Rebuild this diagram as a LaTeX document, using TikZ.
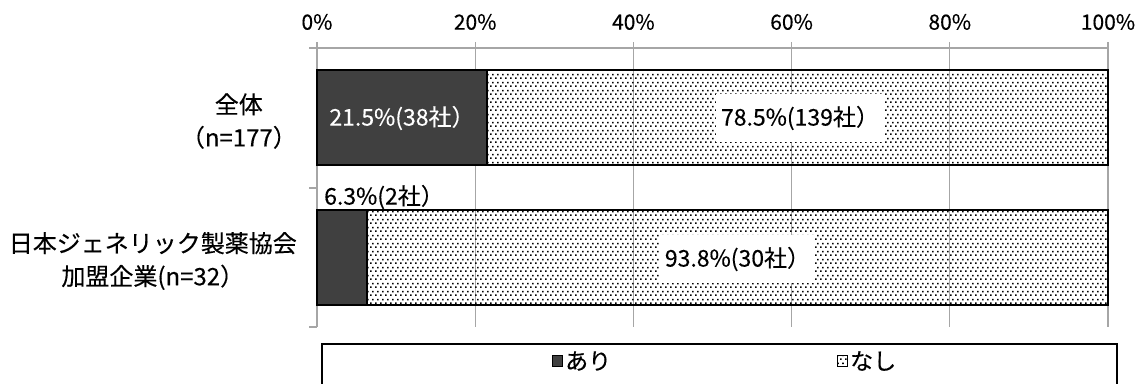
\documentclass[tikz,border=0pt]{standalone}
\usepackage{fontspec}
\setmainfont{Noto Sans CJK JP}[FakeBold=0.3]
\usetikzlibrary{patterns.meta}
\definecolor{bardark}{HTML}{404040}
\definecolor{gridgray}{HTML}{A6A6A6}
\tikzdeclarepattern{name=smalldots, type=uncolored,
  bounding box={(0pt,0pt) and (5pt,8pt)}, tile size={(5pt,8pt)},
  code={\fill (0pt,0pt) rectangle (1.8pt,1.8pt);
        \fill (2.5pt,4pt) rectangle (4.3pt,5.8pt);}}
\tikzset{
  ari/.style={draw=black, line width=1.3pt, fill=bardark},
  nashi/.style={draw=black, line width=1.3pt, pattern=smalldots},
  gridline/.style={gridgray, line width=1.2pt},
  lbl/.style={font=\fontsize{23}{26}\selectfont, inner sep=0pt},
  cat/.style={font=\fontsize{24}{33}\selectfont, inner sep=0pt, align=center, anchor=east},
  whitebox/.style={lbl, fill=white, inner xsep=5pt, inner ysep=12pt}
}
\begin{document}
\begin{tikzpicture}[x=1pt,y=-1pt]
\useasboundingbox (0,0) rectangle (1137,383);
% scale and grid
\foreach \p in {0,20,...,100}{
  \draw[gridline] (317+7.91*\p,42)--(317+7.91*\p,327);
  \node[lbl, font=\fontsize{21}{24}\selectfont] (t\p) at (317+7.91*\p,22) {\p\%};
}
\draw[gridline] (317,48)--(1108,48);
\draw[gridline] (317,48)--(317,327);
\foreach \y in {48,188,327} \draw[gridline] (309,\y)--(317,\y);

% bars
\draw[ari] (317,70) rectangle (487,165);
\draw[nashi] (487,70) rectangle (1108,165);
\draw[ari] (317,210) rectangle (367,305);
\draw[nashi] (367,210) rectangle (1108,305);

\node[lbl, text=white] (ari1) at (402,118) {21.5\%(38社）};
\node[whitebox] (nashi1) at (800,118) {78.5\%(139社）};
\node[lbl, anchor=west] (ari2) at (324,197) {6.3\%(2社）};
\node[whitebox] (nashi2) at (737.5,259) {93.8\%(30社）};

\node[cat] (all) at (297,121) {全体\\（n=177）};
\node[cat] (member) at (297,261) {日本ジェネリック製薬協会\\加盟企業(n=32）};

% legend
\draw[line width=1.3pt] (322,395) |- (1117,344) -- (1117,395);
\draw[ari, line width=.8pt] (552,355) rectangle (562,366);
\node[lbl, anchor=west] (keyari) at (565,361) {あり};
\draw[nashi, line width=.8pt] (837,355) rectangle (847,366);
\node[lbl, anchor=west] (keynashi) at (850,361) {なし};
\end{tikzpicture}
\end{document}
